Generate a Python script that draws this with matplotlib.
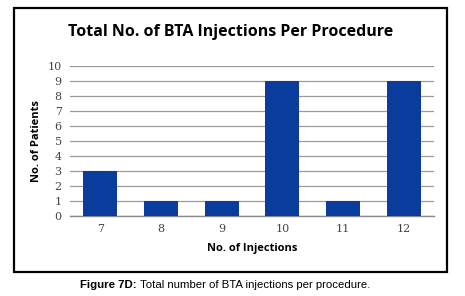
import matplotlib
matplotlib.use("Agg")
import matplotlib.pyplot as plt
from matplotlib.patches import Rectangle

categories = ["7", "8", "9", "10", "11", "12"]
patients = [3, 1, 1, 9, 1, 9]
yticks = list(range(0, 11))

W, H = 465, 296
fig = plt.figure(figsize=(W / 100, H / 100), dpi=100)
fig.patch.set_facecolor("white")

# outer frame
fig.patches.append(Rectangle((14 / W, 1 - 272 / H), (447 - 14) / W, (272 - 8) / H,
                             transform=fig.transFigure, fill=False,
                             edgecolor="black", linewidth=1.6, zorder=5))

ax = fig.add_axes([70 / W, 1 - 216 / H, (434 - 70) / W, (216 - 66) / H])
x = range(len(categories))
ax.bar(x, patients, width=0.56, color="#0a3c9e", zorder=3)
ax.set_xlim(-0.5, len(categories) - 0.5)
ax.set_ylim(0, 10)
ax.set_yticks(yticks)
ax.set_xticks(list(x))
ax.set_xticklabels(categories)
ax.grid(axis="y", color="#9a9a9a", linewidth=0.9, zorder=0)
for s in ["top", "right", "left"]:
    ax.spines[s].set_visible(False)
ax.spines["bottom"].set_color("#8a8a8a")
ax.spines["bottom"].set_linewidth(1.0)
ax.tick_params(axis="both", length=0, labelsize=8, colors="#444444", pad=6)
for lab in ax.get_xticklabels() + ax.get_yticklabels():
    lab.set_fontfamily("DejaVu Serif")
ax.set_xlabel("No. of Injections", fontsize=8, fontweight="bold", family="Open Sans", labelpad=6)
ax.set_ylabel("No. of Patients", fontsize=8, fontweight="bold", family="Open Sans", labelpad=4)

fig.text(231 / W, 1 - 32 / H, "Total No. of BTA Injections Per Procedure",
         ha="center", va="center", fontsize=11.5, fontweight="bold", family="Open Sans")

t1 = fig.text(80 / W, 1 - 285 / H, "Figure 7D:", ha="left", va="center",
              fontsize=8.2, fontweight="bold", family="Liberation Sans")
fig.canvas.draw()
bb = t1.get_window_extent()
fig.text((bb.x1 + 3) / W, 1 - 285 / H, "Total number of BTA injections per procedure.",
         ha="left", va="center", fontsize=8.2, family="Liberation Sans")

fig.savefig("out.png", dpi=100, facecolor="white")
